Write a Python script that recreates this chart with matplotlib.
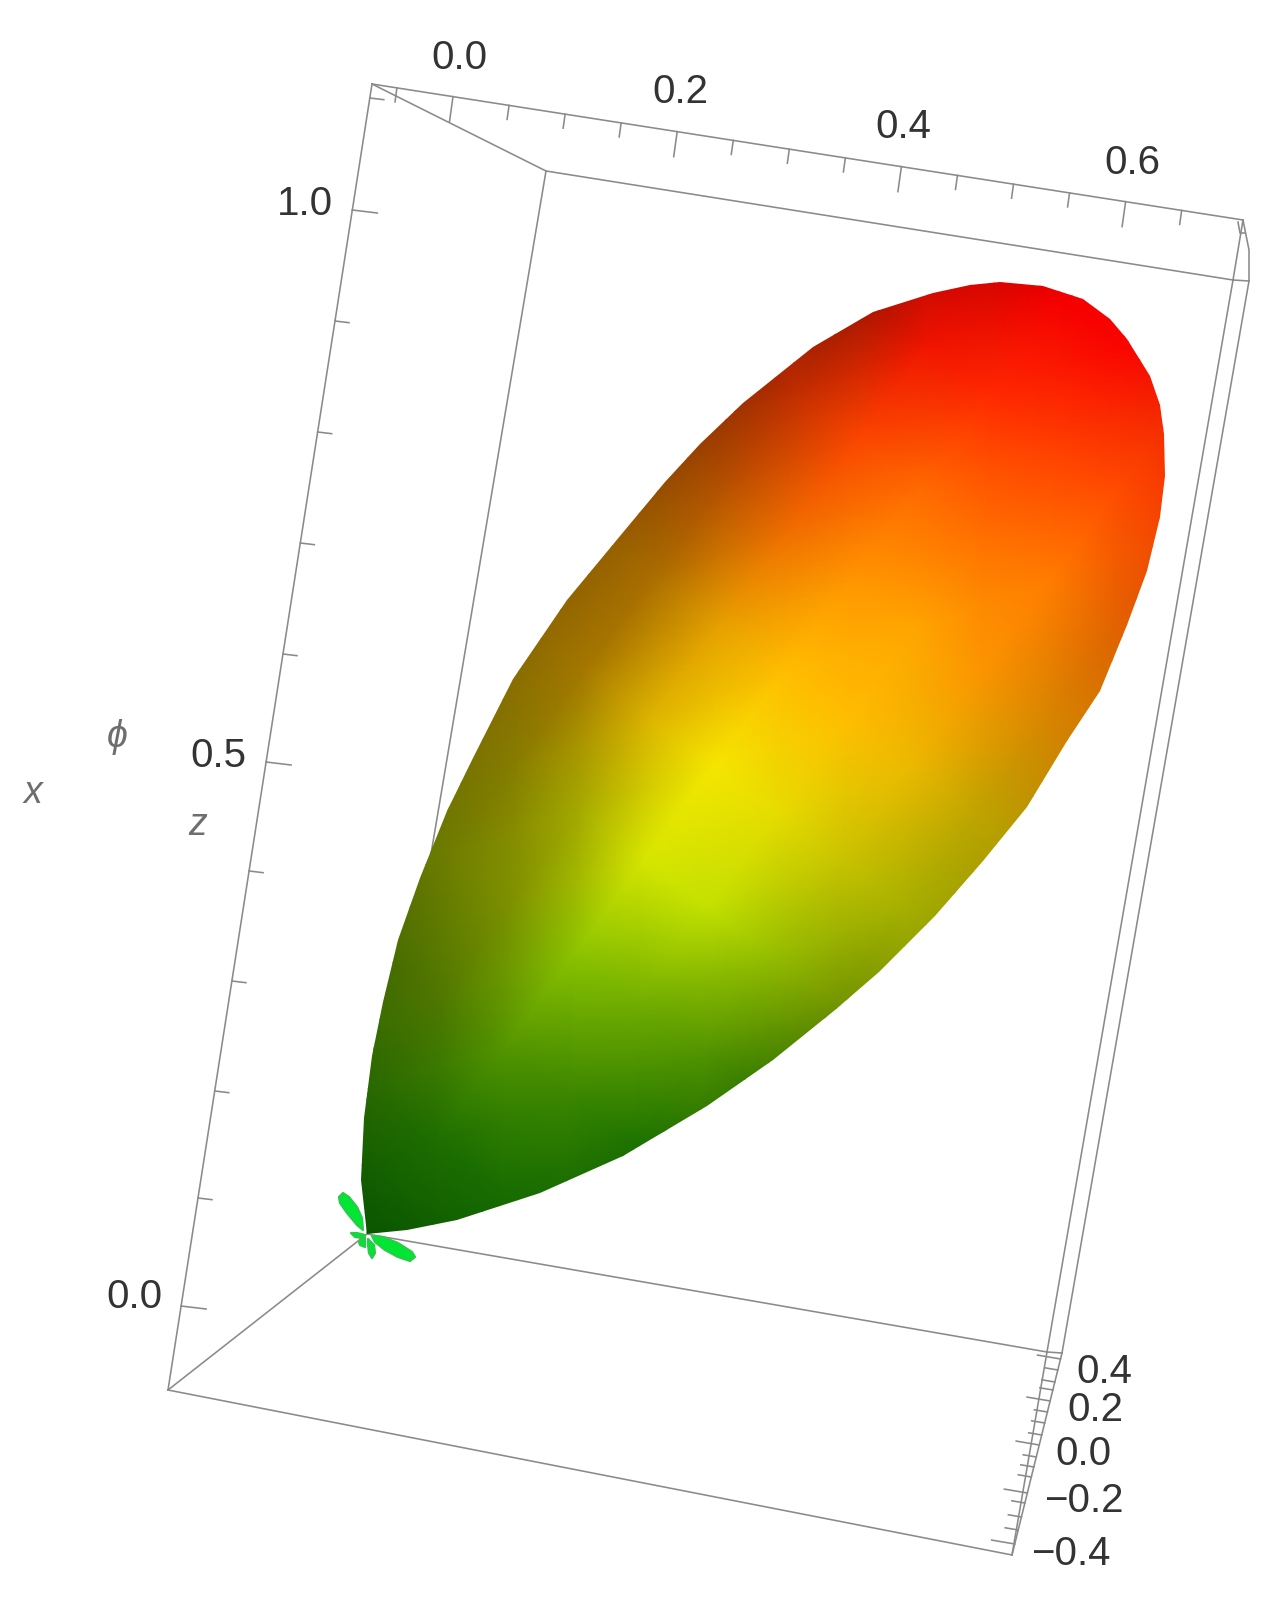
import numpy as np
import matplotlib
matplotlib.use('Agg')
import matplotlib.pyplot as plt
from matplotlib.colors import to_rgb
from matplotlib.patches import Polygon

plt.rcParams['font.family'] = ['Liberation Sans', 'DejaVu Sans']

lobe_outline = [(367, 1234), (361, 1180), (364, 1118), (372, 1056), (383, 1002), (398, 940),
                (420, 878), (447, 811), (473, 758), (513, 679), (567, 600), (625, 530),
                (665, 482), (700, 444), (743, 403), (813, 347), (873, 312), (933, 293),
                (970, 285), (1000, 282), (1043, 286), (1083, 299), (1110, 319), (1127, 339),
                (1150, 376), (1160, 405), (1164, 434), (1165, 476), (1160, 517), (1147, 571),
                (1127, 625), (1100, 691), (1067, 741), (1027, 807), (983, 861), (935, 916),
                (879, 972), (835, 1010), (773, 1060), (707, 1106), (623, 1156), (540, 1193),
                (457, 1220), (407, 1230), (367, 1234)]

petal_a = [(363, 1230), (357, 1225), (347, 1213), (340, 1203), (339, 1197), (343, 1193),
           (349, 1197), (357, 1207), (362, 1218)]
petal_b = [(372, 1236), (383, 1237), (398, 1243), (412, 1252), (415, 1257), (410, 1261),
           (398, 1257), (385, 1250), (375, 1242)]
petal_c = [(368, 1239), (374, 1245), (375, 1253), (372, 1258), (369, 1253), (368, 1245)]
petal_d = [(365, 1235), (357, 1233), (351, 1233), (355, 1237), (362, 1238)]
petal_e = [(365, 1237), (365, 1247), (360, 1245), (359, 1242)]
petals = [petal_a, petal_b, petal_c, petal_d, petal_e]

# lobe colours: rows go from apex to tip, columns across the lobe
along = [0.0, 0.1, 0.2, 0.3, 0.4, 0.5, 0.6, 0.7, 0.8, 0.9, 1.0, 1.1]
across = [-320, -240, -160, -80, 0, 80, 160, 240, 320]
lobe_colors = [
    ['#0a5500', '#0a5500', '#0a5500', '#0a5500', '#0a5500', '#0a5500', '#0a5500', '#0a5500', '#0a5500'],
    ['#286900', '#286900', '#286900', '#286900', '#1e6e00', '#196e00', '#146400', '#146400', '#146400'],
    ['#466900', '#466900', '#466900', '#507800', '#559600', '#3c8700', '#1e7300', '#1e6900', '#1e6900'],
    ['#5a6e00', '#5a6e00', '#6e7d00', '#7d9100', '#8cc300', '#73af00', '#559600', '#2d7300', '#2d7300'],
    ['#786900', '#786900', '#877d00', '#a5aa00', '#d7e600', '#c3e100', '#96be00', '#739600', '#739600'],
    ['#876400', '#876400', '#a57800', '#dcb400', '#f5e600', '#e6dc00', '#c8c300', '#a5af00', '#8c9600'],
    ['#8c5a00', '#8c5a00', '#aa6e00', '#e6a000', '#ffbe00', '#ffbe00', '#ebb900', '#bea500', '#aa9600'],
    ['#823c00', '#823c00', '#b45000', '#f06e00', '#ff9600', '#ffa500', '#fa9600', '#d78700', '#c87800'],
    ['#781900', '#781900', '#be2d00', '#fa4600', '#ff6900', '#ff6e00', '#ff7d00', '#e16400', '#d75f00'],
    ['#a01400', '#a01400', '#a01400', '#f01400', '#ff2800', '#ff3c00', '#ff4b00', '#f04100', '#f04100'],
    ['#c80000', '#c80000', '#c80000', '#c80000', '#f50000', '#fa0500', '#f01e00', '#f01e00', '#f01e00'],
    ['#ff0000', '#ff0000', '#ff0000', '#ff0000', '#ff0000', '#ff0000', '#ff0000', '#ff0000', '#ff0000'],
]

box_lines = [
    [(372, 84), (168, 1390)], [(168, 1390), (1012, 1555)], [(372, 84), (1243, 220)],
    [(372, 84), (546, 171)], [(546, 171), (1233, 280)], [(546, 171), (367, 1234)],
    [(168, 1390), (367, 1234)], [(367, 1234), (1047, 1352)], [(1012, 1555), (1047, 1352)],
    [(1012, 1555), (1062, 1353)], [(1047, 1352), (1062, 1353)], [(1047, 1352), (1233, 280)],
    [(1062, 1353), (1249, 281)], [(1233, 280), (1249, 281)], [(1243, 220), (1233, 280)],
    [(1243, 220), (1249, 250), (1249, 281)], [(1238, 222), (1240, 233), (1245, 233)],
]

x_ticks = [-0.05, 0.0, 0.05, 0.1, 0.15, 0.2, 0.25, 0.3, 0.35, 0.4, 0.45, 0.5, 0.55, 0.6, 0.65]
x_major = [0.0, 0.2, 0.4, 0.6]
z_ticks = [0.0, 0.1, 0.2, 0.3, 0.4, 0.5, 0.6, 0.7, 0.8, 0.9, 1.0, 1.1]
z_major = [0.0, 0.5, 1.0]
z_tick_pix = [1306, 1198, 1091, 981, 871, 762, 654, 543, 432, 321, 210, 98]
y_ticks = [-0.4, -0.35, -0.3, -0.25, -0.2, -0.15, -0.1, -0.05, 0.0,
           0.05, 0.1, 0.15, 0.2, 0.25, 0.3, 0.35, 0.4]
y_major = [-0.4, -0.2, 0.0, 0.2, 0.4]
y_tick_pix = [1544, 1530, 1517, 1503, 1493, 1477, 1467, 1457, 1445,
              1435, 1423, 1412, 1401, 1390, 1382, 1370, 1359]

x_labels = [('0.0', 459, 58), ('0.2', 680, 92), ('0.4', 903, 127), ('0.6', 1132, 163)]
z_labels = [('1.0', 305, 204), ('0.5', 218, 756), ('0.0', 134, 1297)]
y_labels = [('0.4', 1104, 1372), ('0.2', 1095, 1410), ('0.0', 1083, 1454),
            ('\u22120.2', 1084, 1501), ('\u22120.4', 1071, 1554)]
axis_names = [('x', 33, 793), ('\u03d5', 117, 737), ('z', 198, 825)]

line_col = '#8a8a8a'
text_col = '#333333'
name_col = '#6e6e6e'

fig = plt.figure(figsize=(12.83, 16.03), dpi=100)
ax = fig.add_axes([0, 0, 1, 1])
ax.set_xlim(0, 1283)
ax.set_ylim(1603, 0)
ax.axis('off')

for seg in box_lines:
    seg = np.array(seg)
    ax.plot(seg[:, 0], seg[:, 1], color=line_col, lw=1.15, zorder=1)

# x ticks along the top edge
for v in x_ticks:
    px = 453 + 1121 * v
    py = 84 + (px - 372) * (220 - 84) / (1243 - 372)
    ln = 25 if v in x_major else 14
    ax.plot([px, px - 0.14 * ln], [py, py + ln], color=line_col, lw=1.15, zorder=1)

# z ticks along the left edge
for v, py in zip(z_ticks, z_tick_pix):
    px = 372 + (py - 84) * (168 - 372) / (1390 - 84)
    ln = 25 if v in z_major else 14
    ax.plot([px, px + ln], [py, py + 0.12 * ln], color=line_col, lw=1.15, zorder=1)

# y ticks along the right edge, foreshortened so the pixel spacing shrinks
for v, py in zip(y_ticks, y_tick_pix):
    px = 1012 + (1555 - py) * (1062 - 1012) / (1555 - 1353)
    ln = 23 if v in y_major else 13
    ax.plot([px, px - ln], [py, py - 0.17 * ln], color=line_col, lw=1.15, zorder=1)

# lobe: mesh aligned with its long axis, clipped to the outline
apex = np.array([367.0, 1233.0])
up = np.array([0.596, -0.803])
side = np.array([0.803, 0.596])
uu, vv = np.meshgrid(np.array(along) * 1162, across, indexing='ij')
mx = apex[0] + uu * up[0] + vv * side[0]
my = apex[1] + uu * up[1] + vv * side[1]
rgb = np.array([[to_rgb(c) for c in row] for row in lobe_colors])
mesh = ax.pcolormesh(mx, my, rgb, shading='gouraud', zorder=3)
outline = Polygon(lobe_outline, closed=True, transform=ax.transData, fc='none', ec='none')
ax.add_patch(outline)
mesh.set_clip_path(outline)

for p in petals:
    ax.add_patch(Polygon(p, closed=True, fc='#00e632', ec='#28cc46', lw=1.6, joinstyle='round', zorder=4))

for txt, px, py in x_labels + z_labels + y_labels:
    ax.text(px, py, txt, fontsize=29, color=text_col, ha='center', va='center', zorder=5)
for txt, px, py in axis_names:
    ax.text(px, py, txt, fontsize=27, color=name_col, style='italic', ha='center', va='center', zorder=5)

fig.savefig('out.png', dpi=100)
